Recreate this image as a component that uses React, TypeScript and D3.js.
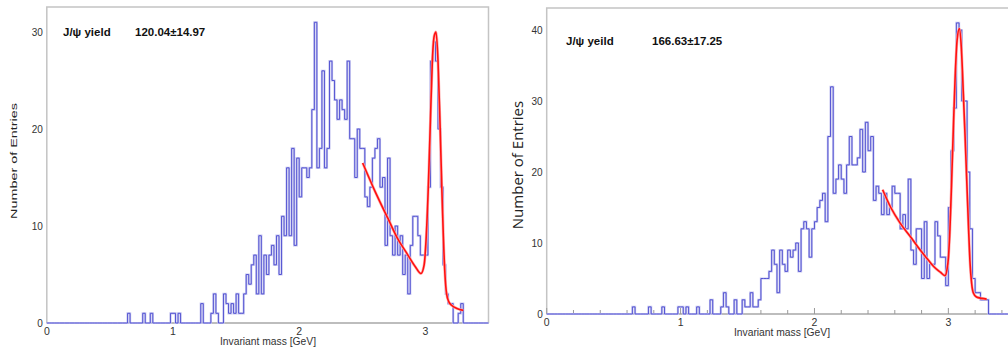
import React from "react";
import * as d3 from "d3";

// Dimuon invariant-mass histograms, 20 MeV bins from 0 to 3.5 GeV
const BIN_WIDTH = 0.02;
const MASS_DOMAIN: [number, number] = [0, 3.5];

// entries per bin, bin i covers [i*0.02, (i+1)*0.02) GeV
const leftCounts = [
  0, 0, 0, 0, 0, 0, 0, 0, 0, 0, 0, 0, 0, 0, 0, 0, 0, 0, 0, 0,
  0, 0, 0, 0, 0, 0, 0, 0, 0, 0, 0, 0, 1, 0, 0, 0, 0, 0, 1, 0,
  0, 1, 0, 0, 0, 0, 0, 0, 0, 1, 1, 0, 1, 0, 0, 0, 0, 0, 0, 0,
  0, 2, 0, 0, 0, 1, 3, 1, 0, 0, 3, 2, 1, 2, 1, 3, 1, 1, 3, 5,
  4, 6, 7, 3, 9, 3, 7, 5, 7, 8, 6, 9, 5, 11, 9, 16, 9, 18, 8, 17,
  13, 16, 16, 15, 16, 22, 31, 16, 18, 26, 16, 18, 27, 25, 23, 21, 23, 22, 21, 27,
  19, 19, 15, 20, 18, 18, 13, 12, 14, 17, 18, 19, 14, 15, 8, 17, 9, 7, 10, 7,
  9, 5, 7, 3, 8, 11, 11, 9, 7, 7, 7, 14, 27, 29, 27, 20, 14, 6, 3, 2,
  2, 0, 0, 1, 2, 0, 0, 0, 0, 0, 0, 0, 0, 0, 0,
];

const rightCounts = [
  0, 0, 0, 0, 0, 0, 0, 0, 0, 0, 0, 0, 0, 0, 0, 0, 0, 0, 0, 0,
  0, 0, 0, 0, 0, 0, 0, 0, 0, 0, 0, 0, 1, 0, 0, 0, 0, 0, 1, 0,
  0, 0, 0, 1, 0, 0, 0, 0, 0, 1, 1, 0, 1, 0, 0, 0, 1, 0, 0, 0,
  0, 2, 0, 0, 0, 1, 3, 1, 0, 0, 2, 0, 0, 2, 1, 1, 3, 1, 1, 2,
  5, 5, 5, 6, 9, 7, 3, 9, 7, 6, 9, 8, 9, 10, 6, 12, 13, 12, 8, 12,
  13, 15, 16, 17, 13, 25, 32, 17, 19, 21, 19, 17, 21, 25, 21, 21, 22, 26, 20, 27,
  23, 25, 16, 18, 17, 14, 17, 14, 15, 18, 17, 17, 12, 14, 12, 19, 9, 7, 12, 12,
  5, 13, 5, 7, 7, 13, 11, 8, 8, 4, 15, 23, 29, 41, 40, 30, 30, 20, 12, 5,
  3, 3, 2, 2, 2, 0, 0, 0, 0, 0, 0, 0, 0, 0, 0,
];

// fitted signal + background curves, [mass GeV, entries]
const leftFit: [number, number][] = [
  [2.503, 16.5], [2.6, 13.6], [2.706, 10.7], [2.78, 8.7], [2.852, 7.2],
  [2.92, 5.8], [2.965, 5.1], [2.99, 6.0], [3.005, 8.5], [3.023, 14],
  [3.04, 21], [3.055, 27], [3.07, 29.6], [3.084, 30], [3.1, 27],
  [3.116, 20.5], [3.13, 14], [3.142, 9], [3.155, 5], [3.168, 3.0],
  [3.185, 2.2], [3.21, 1.8], [3.25, 1.5], [3.3, 1.3],
];

const rightFit: [number, number][] = [
  [2.509, 17.5], [2.57, 15], [2.64, 12.8], [2.72, 10.8], [2.79, 9.0],
  [2.85, 7.6], [2.89, 6.7], [2.94, 5.9], [2.975, 5.4], [2.99, 6.3],
  [3.0, 7.8], [3.012, 12], [3.025, 19], [3.038, 26.5], [3.05, 33],
  [3.065, 38.5], [3.082, 40.2], [3.097, 37.5], [3.112, 31], [3.125, 25],
  [3.137, 19], [3.15, 12.5], [3.161, 7.5], [3.174, 4.3], [3.186, 3.0],
  [3.21, 2.4], [3.25, 2.2], [3.286, 2.1],
];

const leftYTicks = [0, 10, 20, 30];
const rightYTicks = [0, 10, 20, 30, 40];
const massTicks = [0, 1, 2, 3];
const minorMassTicks = d3.range(0, 3.5001, 0.2);

const leftYield = { label: "J/\u03c8  yield", value: "120.04\u00b114.97" };
const rightYield = { label: "J/\u03c8 yeild", value: "166.63\u00b117.25" };

const HIST_BLUE = "#4a4acf";
const HIST_HALO = "#c6c6f0";
const FIT_RED = "#ff1010";
const FRAME_GREY = "#c4c4c4";
const FONT = "'Liberation Sans', Arial, sans-serif";

type PanelProps = {
  left: number;
  right: number;
  top: number;
  bottom: number;
  yMax: number;
  counts: number[];
  fit: [number, number][];
  yTicks: number[];
  showMinorTicks: boolean;
  tickLabelDy: number;
  titleX: number;
  titleY: number;
  yTitle: { x: number; y: number; size: number; family: string; length?: number };
  yieldText: { label: string; value: string };
  yieldPos: { x: number; valueX: number; y: number };
};

function Panel(p: PanelProps) {
  const x = d3.scaleLinear().domain(MASS_DOMAIN).range([p.left, p.right]);
  const y = d3.scaleLinear().domain([0, p.yMax]).range([p.bottom, p.top]);

  const steps: [number, number][] = [[0, 0]];
  p.counts.forEach((c, i) => {
    steps.push([i * BIN_WIDTH, c]);
    steps.push([(i + 1) * BIN_WIDTH, c]);
  });
  steps.push([MASS_DOMAIN[1], 0]);

  const histLine = d3
    .line<[number, number]>()
    .x((d) => x(d[0]))
    .y((d) => y(d[1]));
  const fitLine = d3
    .line<[number, number]>()
    .x((d) => x(d[0]))
    .y((d) => y(d[1]))
    .curve(d3.curveMonotoneX);

  return (
    <g>
      {/* frame */}
      <path
        d={`M${p.left},${p.bottom}V${p.top}H${p.right}V${p.bottom}`}
        fill="none"
        stroke={FRAME_GREY}
        strokeWidth={1.5}
      />
      <line x1={p.left} x2={p.right} y1={p.bottom} y2={p.bottom} stroke="#bdbdbd" strokeWidth={2} />
      {p.showMinorTicks &&
        minorMassTicks.map((t) => {
          const major = Math.abs(t - Math.round(t)) < 1e-6;
          return (
            <line
              key={t}
              x1={x(t)}
              x2={x(t)}
              y1={p.bottom}
              y2={p.bottom - (major ? 6 : 4)}
              stroke="#9a9a9a"
              strokeWidth={1}
            />
          );
        })}

      {/* histogram */}
      <path d={histLine(steps) ?? ""} fill="none" stroke={HIST_HALO} strokeWidth={2.2} />
      <path d={histLine(steps) ?? ""} fill="none" stroke={HIST_BLUE} strokeWidth={0.9} />

      {/* fit */}
      <path d={fitLine(p.fit) ?? ""} fill="none" stroke="#ffb0b0" strokeWidth={2.8} />
      <path d={fitLine(p.fit) ?? ""} fill="none" stroke={FIT_RED} strokeWidth={1.6} />

      {/* axis labels */}
      {p.yTicks.map((t) => (
        <text
          key={t}
          x={p.left - 4}
          y={y(t) + 3.5}
          textAnchor="end"
          fontFamily={FONT}
          fontSize={10}
          fill="#333"
        >
          {t}
        </text>
      ))}
      {massTicks.map((t) => (
        <text
          key={t}
          x={x(t)}
          y={p.bottom + p.tickLabelDy}
          textAnchor="middle"
          fontFamily={FONT}
          fontSize={10.5}
          fill="#333"
        >
          {t}
        </text>
      ))}
      <text x={p.titleX} y={p.titleY} textAnchor="middle" fontFamily={FONT} fontSize={10.3} fill="#333">
        Invariant mass [GeV]
      </text>
      <text
        transform={`translate(${p.yTitle.x},${p.yTitle.y}) rotate(-90)`}
        textAnchor="middle"
        fontFamily={p.yTitle.family}
        fontSize={p.yTitle.size}
        fill="#222"
        textLength={p.yTitle.length}
        lengthAdjust={p.yTitle.length ? "spacingAndGlyphs" : undefined}
      >
        Number of Entries
      </text>

      {/* yield annotation */}
      <text x={p.yieldPos.x} y={p.yieldPos.y} fontFamily={FONT} fontSize={11.5} fontWeight="bold" fill="#111">
        {p.yieldText.label}
      </text>
      <text x={p.yieldPos.valueX} y={p.yieldPos.y} fontFamily={FONT} fontSize={11.5} fontWeight="bold" fill="#111">
        {p.yieldText.value}
      </text>
    </g>
  );
}

export default function App() {
  return (
    <div style={{ position: "absolute", left: 0, top: 0 }}>
      <svg width={1008} height={350} style={{ display: "block", background: "#fff" }}>
        <Panel
          left={46.8}
          right={488.5}
          top={7}
          bottom={323}
          yMax={32.58}
          counts={leftCounts}
          fit={leftFit}
          yTicks={leftYTicks}
          showMinorTicks={false}
          tickLabelDy={12}
          titleX={268}
          titleY={345}
          yTitle={{ x: 17, y: 161, size: 9.5, family: FONT, length: 116 }}
          yieldText={leftYield}
          yieldPos={{ x: 63, valueX: 135, y: 36 }}
        />
        <Panel
          left={546.7}
          right={1015.3}
          top={8}
          bottom={314}
          yMax={43.1}
          counts={rightCounts}
          fit={rightFit}
          yTicks={rightYTicks}
          showMinorTicks={true}
          tickLabelDy={12}
          titleX={782}
          titleY={336}
          yTitle={{ x: 523, y: 165, size: 15, family: "'Open Sans', 'DejaVu Sans', sans-serif" }}
          yieldText={rightYield}
          yieldPos={{ x: 566, valueX: 652, y: 45 }}
        />
      </svg>
    </div>
  );
}
